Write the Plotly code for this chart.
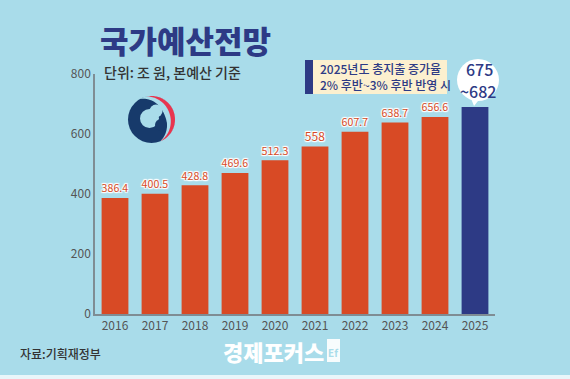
import numpy as np
import plotly.graph_objects as go

years = ["2016", "2017", "2018", "2019", "2020", "2021", "2022", "2023", "2024", "2025"]
values = [386.4, 400.5, 428.8, 469.6, 512.3, 558, 607.7, 638.7, 656.6, 690]
labels = ["386.4", "400.5", "428.8", "469.6", "512.3", "558", "607.7", "638.7", "656.6", ""]
y_ticks = [0, 200, 400, 600, 800]

BG = "#a9dcea"
ORANGE = "#d84a25"
NAVY = "#2d3a85"
EMB_NAVY = "#173a6b"
EMB_RED = "#e8354f"
FONT = "Noto Sans CJK KR"

W, H = 570, 379
L, R, T, B = 95, 75, 74, 65
PW, PH = W - L - R, H - T - B


def px(x):
    return (x - L) / PW


def py(y):
    return (H - B - y) / PH


colors = [ORANGE] * 9 + [NAVY]
shadow = ("1px 1px 1px #fff, -1px -1px 1px #fff, 1px -1px 1px #fff, "
          "-1px 1px 1px #fff, 0 1px 1px #fff, 0 -1px 1px #fff")

fig = go.Figure()
fig.add_trace(go.Bar(
    x=years, y=values, marker_color=colors, marker_line_width=0,
    width=0.67, hoverinfo="skip",
    text=labels, textposition="outside", cliponaxis=False,
    textfont=dict(family=FONT, size=12, color=ORANGE, shadow=shadow),
))

shapes = []
annotations = []


def circle(cx, cy, r, color):
    shapes.append(dict(type="circle", xref="paper", yref="paper",
                       x0=px(cx - r), x1=px(cx + r), y0=py(cy + r), y1=py(cy - r),
                       fillcolor=color, line=dict(width=0), layer="above"))


def rect(x0, y0, x1, y1, color, layer="above"):
    shapes.append(dict(type="rect", xref="paper", yref="paper",
                       x0=px(x0), x1=px(x1), y0=py(y1), y1=py(y0),
                       fillcolor=color, line=dict(width=0), layer=layer))


def polygon(pts, color):
    d = "M " + " L ".join(f"{px(x):.5f} {py(y):.5f}" for x, y in pts) + " Z"
    shapes.append(dict(type="path", xref="paper", yref="paper", path=d,
                       fillcolor=color, line=dict(width=0), layer="above"))


def crescent(cx, cy, r, a1, a2, wmax, color):
    th = np.radians(np.linspace(a1, a2, 60))
    frac = np.sin(np.pi * (th - th[0]) / (th[-1] - th[0]))
    outer = [(cx + r * np.sin(t), cy - r * np.cos(t)) for t in th]
    inner = [(cx + (r - wmax * f) * np.sin(t), cy - (r - wmax * f) * np.cos(t))
             for t, f in zip(th[::-1], frac[::-1])]
    polygon(outer + inner, color)


# government emblem
ECX, ECY, ER = 151.5, 119.5, 23.5
circle(ECX, ECY, ER, EMB_NAVY)
crescent(ECX, ECY, ER + 0.3, -30, 160, 10, BG)
crescent(ECX, ECY, ER, -12, 158, 4.5, EMB_RED)
circle(149.5, 118.5, 9.5, BG)
circle(156, 111, 6.5, BG)
circle(161, 125, 6, EMB_NAVY)

# legend box
rect(305, 60, 313, 94, NAVY)
rect(313, 60, 447, 94, "#fcf0cf")

# callout bubble
circle(478, 80, 21, "white")
polygon([(470, 96), (482, 96), (474, 106)], "white")

# footer strip & watermark icon
rect(0, 375, 570, 379, "#e9f6fa", layer="below")
rect(327, 339, 340, 362, "rgba(255,255,255,0.9)")

annotations += [
    dict(x=px(98), y=py(39.5), xref="paper", yref="paper", xanchor="left", yanchor="middle",
         text="국가예산전망", showarrow=False,
         font=dict(family=FONT, size=31, color=NAVY, weight=900)),
    dict(x=px(102), y=py(72.5), xref="paper", yref="paper", xanchor="left", yanchor="middle",
         text="단위: 조 원, 본예산 기준", showarrow=False,
         font=dict(family=FONT, size=14, color="#333333", weight=500)),
    dict(x=px(318), y=py(77), xref="paper", yref="paper", xanchor="left", yanchor="middle",
         text="2025년도 총지출 증가율<br>2% 후반~3% 후반 반영 시", showarrow=False, align="left",
         font=dict(family=FONT, size=12, color=NAVY, weight=500)),
    dict(x=px(479.5), y=py(68.5), xref="paper", yref="paper", xanchor="center", yanchor="middle",
         text="675", showarrow=False, borderpad=0,
         font=dict(family=FONT, size=16, color=NAVY, weight=500)),
    dict(x=px(477.5), y=py(91), xref="paper", yref="paper", xanchor="center", yanchor="middle",
         text="~682", showarrow=False, borderpad=0,
         font=dict(family=FONT, size=16, color=NAVY, weight=500)),
    dict(x=px(18), y=py(353), xref="paper", yref="paper", xanchor="left", yanchor="middle",
         text="자료:기획재정부", showarrow=False,
         font=dict(family=FONT, size=12, color="#333333", weight=500)),
    dict(x=px(273), y=py(351), xref="paper", yref="paper", xanchor="center", yanchor="middle",
         text="경제포커스", showarrow=False,
         font=dict(family=FONT, size=22, color="white", weight=900)),
    dict(x=px(333.5), y=py(352), xref="paper", yref="paper", xanchor="center", yanchor="middle",
         text="Ef", showarrow=False,
         font=dict(family=FONT, size=10, color=BG, weight=700)),
]

fig.update_layout(
    width=W, height=H,
    margin=dict(l=L, r=R, t=T, b=B),
    paper_bgcolor=BG, plot_bgcolor=BG,
    showlegend=False,
    shapes=shapes,
    annotations=annotations,
    xaxis=dict(
        type="category", range=[-0.5, 9.5], showgrid=False, zeroline=False,
        showline=True, linecolor="#7f8d94", linewidth=2,
        ticks="", tickfont=dict(family=FONT, size=12, color="#555555"),
        fixedrange=True,
    ),
    yaxis=dict(
        range=[0, 800], tickvals=y_ticks, showgrid=False, zeroline=False,
        showline=True, linecolor="#7f8d94", linewidth=1.5,
        ticks="", tickfont=dict(family=FONT, size=12, color="#555555"),
        fixedrange=True,
    ),
)

fig.write_html("out.html", config={"displayModeBar": False},
               post_script="document.body.style.margin='0';document.body.style.overflow='hidden';")
